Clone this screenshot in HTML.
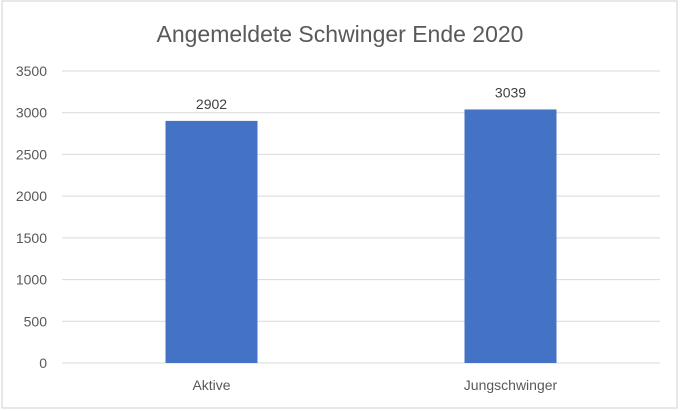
<!DOCTYPE html>
<html><head><meta charset="utf-8"><style>
body{margin:0;background:#fff;}
svg{display:block;font-family:"Liberation Sans",sans-serif;}
</style></head><body>
<svg id="c" width="680" height="411">
<rect x="2" y="1" width="675" height="407" fill="#fff" stroke="#d0d0d0"/>
<text x="340" y="42" text-anchor="middle" font-size="23" fill="#595959">Angemeldete Schwinger Ende 2020</text>
</svg>
<script>
const categories=["Aktive","Jungschwinger"];
const values=[2902,3039];
const ticks=[0,500,1000,1500,2000,2500,3000,3500];
const svg=document.getElementById('c');
const NS="http://www.w3.org/2000/svg";
const x0=62,x1=660,yb=363,yt=71,maxV=3500;
const y=v=>yb-(v/maxV)*(yb-yt);
const bw=(x1-x0)/categories.length;
const xc=i=>x0+bw*(i+0.5);
function mk(t,a){const e=document.createElementNS(NS,t);for(const k in a)e.setAttribute(k,a[k]);svg.appendChild(e);return e;}
ticks.forEach(t=>{
 const l=mk('line',{x1:x0,x2:x1,y1:y(t),y2:y(t),stroke:'#d9d9d9','stroke-width':1});
 
 
 const tx=mk('text',{x:47,y:y(t)+5,'text-anchor':'end','font-size':14,fill:'#595959'});
 tx.textContent=t;
 
 
});
categories.forEach((c,i)=>{
 const w=92;
 const r=mk('rect',{x:xc(i)-w/2,y:y(values[i]),width:w,height:yb-y(values[i]),fill:'#4472c4'});
 
 
 const v=mk('text',{x:xc(i),y:y(values[i])-12,'text-anchor':'middle','font-size':14,fill:'#404040'});
 v.textContent=values[i];
 
 
 const cl=mk('text',{x:xc(i),y:390,'text-anchor':'middle','font-size':14,fill:'#595959'});
 cl.textContent=c;
 
 
});
</script>
</body></html>
